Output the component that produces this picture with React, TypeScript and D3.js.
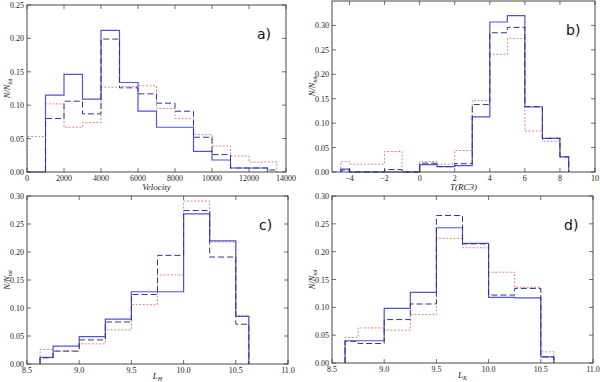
import React from "react";
import * as d3 from "d3";

// panel a: velocity histogram, bins of 1000 km/s
const velEdgesSolid = [0, 1000, 2000, 3000, 4000, 5000, 6000, 7000, 8000, 9000, 10000, 11000, 12000, 13000];
const velSolid = [0, 0.115, 0.146, 0.109, 0.212, 0.134, 0.091, 0.067, 0.067, 0.031, 0.018, 0.006, 0.006];
const velEdgesDashed = [1000, 2000, 3000, 4000, 5000, 6000, 7000, 8000, 9000, 10000, 11000, 12000, 13000, 13500];
const velDashed = [0.08, 0.106, 0.087, 0.199, 0.126, 0.117, 0.103, 0.091, 0.052, 0.026, 0.006, 0.006, 0.003];
const velEdgesDotted = [0, 1000, 2000, 3000, 4000, 5000, 6000, 7000, 8000, 9000, 10000, 11000, 12000, 13500];
const velDotted = [0.053, 0.102, 0.067, 0.074, 0.127, 0.128, 0.129, 0.095, 0.08, 0.056, 0.039, 0.024, 0.015];

// panel b: morphological type
const tEdges = [-4.5, -4, -3, -2, -1, 0, 1, 2, 3, 4, 5, 6, 7, 8, 8.5];
const tSolid = [0.006, 0, 0, 0, 0, 0.015, 0.011, 0.013, 0.113, 0.307, 0.32, 0.133, 0.069, 0.031];
const tDashed = [0.004, 0, 0, 0.005, 0, 0.018, 0.011, 0.017, 0.138, 0.285, 0.296, 0.134, 0.069, 0.031];
const tDotted = [0.021, 0.016, 0.016, 0.042, 0, 0.021, 0.016, 0.044, 0.146, 0.241, 0.273, 0.084, 0.063, 0.031];

// panels c, d: luminosities
const lumEdges = [8.625, 8.75, 9.0, 9.25, 9.5, 9.75, 10.0, 10.25, 10.5, 10.625];
const lhSolid = [0.012, 0.032, 0.049, 0.08, 0.129, 0.129, 0.268, 0.22, 0.085];
const lhDashed = [0.011, 0.023, 0.043, 0.075, 0.124, 0.194, 0.274, 0.191, 0.071];
const lhDotted = [0.026, 0.023, 0.036, 0.061, 0.106, 0.159, 0.291, 0.218, 0.087];
const lkSolid = [0.04, 0.04, 0.098, 0.127, 0.243, 0.215, 0.118, 0.117, 0.011];
const lkDashed = [0.039, 0.035, 0.078, 0.106, 0.265, 0.214, 0.122, 0.134, 0.011];
const lkDotted = [0.046, 0.063, 0.059, 0.087, 0.224, 0.207, 0.163, 0.136, 0.02];

const velTicks = [0, 2000, 4000, 6000, 8000, 10000, 12000, 14000];
const tTicks = [-4, -2, 0, 2, 4, 6, 8, 10];
const lumTicks = [8.5, 9.0, 9.5, 10.0, 10.5, 11.0];

const styles = {
  solid: { stroke: "#5252dc", width: 1.2, dash: "none" },
  dashed: { stroke: "#34348e", width: 1, dash: "6,3" },
  dotted: { stroke: "#e86a6a", width: 0.9, dash: "1.8,1.8" },
};

const panels = [
  {
    key: "a", label: "a)", box: [27, 5, 286, 172], xDomain: [0, 14000], yDomain: [0, 0.25],
    xTicks: velTicks, yTicks: [0, 0.05, 0.1, 0.15, 0.2, 0.25], xFmt: (v) => String(v),
    xLabel: "Velocity", xSub: "", xLabelDy: 18,
    series: [
      { kind: "dotted", edges: velEdgesDotted, values: velDotted },
      { kind: "solid", edges: velEdgesSolid, values: velSolid },
      { kind: "dashed", edges: velEdgesDashed, values: velDashed },
    ],
  },
  {
    key: "b", label: "b)", box: [332, 1, 595, 172], xDomain: [-5, 10], yDomain: [0, 0.35],
    xTicks: tTicks, yTicks: [0, 0.05, 0.1, 0.15, 0.2, 0.25, 0.3], xFmt: (v) => String(v).replace("-", "\u2212"),
    xLabel: "T(RC3)", xSub: "", xLabelDy: 18,
    series: [
      { kind: "dotted", edges: tEdges, values: tDotted },
      { kind: "solid", edges: tEdges, values: tSolid },
      { kind: "dashed", edges: tEdges, values: tDashed },
    ],
  },
  {
    key: "c", label: "c)", box: [27, 196, 288, 364], xDomain: [8.5, 11], yDomain: [0, 0.3],
    xTicks: lumTicks, yTicks: [0, 0.05, 0.1, 0.15, 0.2, 0.25, 0.3], xFmt: d3.format(".1f"),
    xLabel: "L", xSub: "H", xLabelDy: 15,
    series: [
      { kind: "dotted", edges: lumEdges, values: lhDotted },
      { kind: "solid", edges: lumEdges, values: lhSolid },
      { kind: "dashed", edges: lumEdges, values: lhDashed },
    ],
  },
  {
    key: "d", label: "d)", box: [332, 196, 593, 363], xDomain: [8.5, 11], yDomain: [0, 0.3],
    xTicks: lumTicks, yTicks: [0, 0.05, 0.1, 0.15, 0.2, 0.25, 0.3], xFmt: d3.format(".1f"),
    xLabel: "L", xSub: "K", xLabelDy: 15,
    series: [
      { kind: "dotted", edges: lumEdges, values: lkDotted },
      { kind: "solid", edges: lumEdges, values: lkSolid },
      { kind: "dashed", edges: lumEdges, values: lkDashed },
    ],
  },
];

const serif = "'Liberation Serif', 'DejaVu Serif', serif";

// step outline like matplotlib histtype='step'
const stepPoints = (edges, values) => {
  const pts = [[edges[0], 0]];
  values.forEach((v, i) => {
    pts.push([edges[i], v]);
    pts.push([edges[i + 1], v]);
  });
  pts.push([edges[edges.length - 1], 0]);
  return pts;
};

const Panel = ({ p }) => {
  const [x0, y0, x1, y1] = p.box;
  const x = d3.scaleLinear().domain(p.xDomain).range([x0, x1]);
  const y = d3.scaleLinear().domain(p.yDomain).range([y1, y0]);
  const line = d3.line().x((d) => x(d[0])).y((d) => y(d[1]));
  const tl = 4;
  const yMid = (y0 + y1) / 2;
  return (
    <g>
      <defs>
        <clipPath id={"clip-" + p.key}>
          <rect x={x0} y={y0} width={x1 - x0} height={y1 - y0 + 1} />
        </clipPath>
      </defs>
      <g clipPath={`url(#clip-${p.key})`}>
        {p.series.map((s) => {
          const st = styles[s.kind];
          return (
            <path
              key={s.kind}
              d={line(stepPoints(s.edges, s.values))}
              fill="none"
              stroke={st.stroke}
              strokeWidth={st.width}
              strokeDasharray={st.dash}
            />
          );
        })}
      </g>
      <rect x={x0} y={y0} width={x1 - x0} height={y1 - y0} fill="none" stroke="#333" strokeWidth={0.9} />
      {p.xTicks.map((t) => (
        <g key={"x" + t}>
          <line x1={x(t)} x2={x(t)} y1={y1} y2={y1 - tl} stroke="#333" strokeWidth={0.7} />
          <line x1={x(t)} x2={x(t)} y1={y0} y2={y0 + tl} stroke="#333" strokeWidth={0.7} />
          <text x={x(t)} y={y1 + 9} fontSize={8} fontFamily={serif} textAnchor="middle" fill="#222">
            {p.xFmt(t)}
          </text>
        </g>
      ))}
      {p.yTicks.map((t) => (
        <g key={"y" + t}>
          <line x1={x0} x2={x0 + tl} y1={y(t)} y2={y(t)} stroke="#333" strokeWidth={0.7} />
          <line x1={x1} x2={x1 - tl} y1={y(t)} y2={y(t)} stroke="#333" strokeWidth={0.7} />
          <text x={x0 - 3} y={y(t) + 3} fontSize={8} fontFamily={serif} textAnchor="end" fill="#222">
            {d3.format(".2f")(t)}
          </text>
        </g>
      ))}
      <text x={(x0 + x1) / 2} y={y1 + p.xLabelDy} fontSize={9} fontFamily={serif} fontStyle="italic" textAnchor="middle" fill="#222">
        {p.xLabel}
        {p.xSub && <tspan fontSize={6} dy={1.5}>{p.xSub}</tspan>}
      </text>
      <text
        transform={`translate(${x0 - 17},${yMid}) rotate(-90)`}
        fontSize={8.5}
        fontFamily={serif}
        fontStyle="italic"
        textAnchor="middle"
        fill="#222"
      >
        N/N<tspan fontSize={5.5} dy={1.5}>tot</tspan>
      </text>
      <text x={x1 - 29} y={y0 + 34} fontSize={14} fontFamily="'DejaVu Sans', sans-serif" fill="#111">
        {p.label}
      </text>
    </g>
  );
};

export default function App() {
  return (
    <svg width={600} height={382} style={{ position: "absolute", left: 0, top: 0, background: "#fff" }}>
      {panels.map((p) => (
        <Panel key={p.key} p={p} />
      ))}
    </svg>
  );
}
